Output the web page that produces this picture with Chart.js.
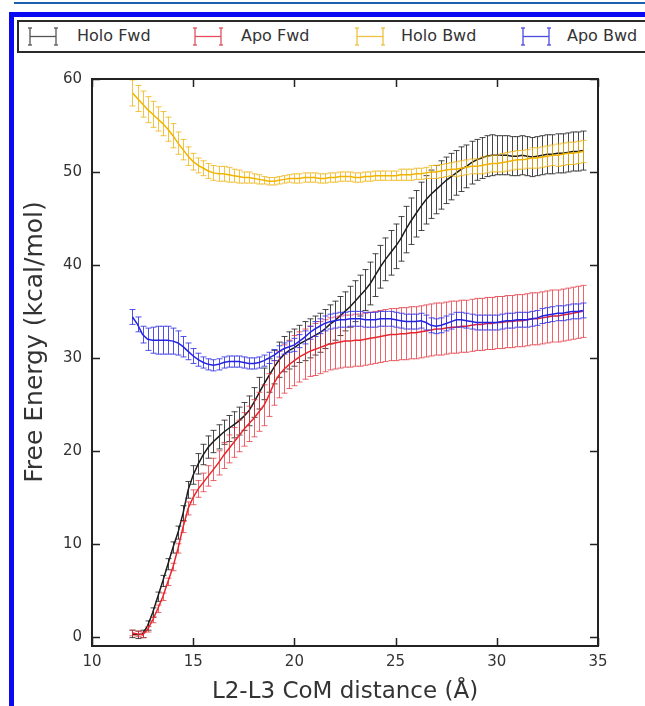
<!DOCTYPE html>
<html>
<head>
<meta charset="utf-8">
<title>Free energy profile</title>
<script src="https://cdn.jsdelivr.net/npm/chart.js@4.4.1/dist/chart.umd.min.js"></script>
<style>
    html, body { margin: 0; padding: 0; background: #fff; overflow: hidden; }
    body { width: 645px; height: 706px; position: relative; font-family: "DejaVu Sans", sans-serif; }
    #chart { position: absolute; left: 0; top: 0; }
    .topline { position: absolute; left: 14px; top: 2px; width: 640px; height: 2px; background: #1d5fae; }
    .frame { position: absolute; left: 9px; top: 12px; width: 700px; height: 720px; border: 5px solid #0a0af2; box-sizing: border-box; }
    #legend { position: absolute; left: 17px; top: 20px; width: 660px; height: 29px; border: 2px solid #2a2a2a; background: #fff; z-index: 2; }
    #legend .sym { position: absolute; top: 5px; }
    #legend .txt { position: absolute; top: 4px; font-size: 16px; color: #333; white-space: nowrap; }
</style>
</head>
<body>
<canvas id="chart" width="645" height="706"></canvas>
<div class="topline"></div>
<div class="frame"></div>
<div id="legend"></div>

<script>
// ===================================
// Data
// ===================================

const seriesLabels = ['Holo Fwd', 'Apo Fwd', 'Holo Bwd', 'Apo Bwd'];

// L2-L3 CoM distance (Å)
const distance = [
    12.00, 12.25, 12.50, 12.75, 13.00, 13.25, 13.50, 13.75, 14.00, 14.25,
    14.50, 14.75, 15.00, 15.25, 15.50, 15.75, 16.00, 16.25, 16.50, 16.75,
    17.00, 17.25, 17.50, 17.75, 18.00, 18.25, 18.50, 18.75, 19.00, 19.25,
    19.50, 19.75, 20.00, 20.25, 20.50, 20.75, 21.00, 21.25, 21.50, 21.75,
    22.00, 22.25, 22.50, 22.75, 23.00, 23.25, 23.50, 23.75, 24.00, 24.25,
    24.50, 24.75, 25.00, 25.25, 25.50, 25.75, 26.00, 26.25, 26.50, 26.75,
    27.00, 27.25, 27.50, 27.75, 28.00, 28.25, 28.50, 28.75, 29.00, 29.25,
    29.50, 29.75, 30.00, 30.25, 30.50, 30.75, 31.00, 31.25, 31.50, 31.75,
    32.00, 32.25, 32.50, 32.75, 33.00, 33.25, 33.50, 33.75, 34.00, 34.25
];

// Free energy (kcal/mol) and error bars
const holoFwd = [
    0.3, 0.2, 0.3, 1.2, 2.6, 4.3, 6.0, 7.8, 9.6, 11.2,
    13.3, 15.8, 17.4, 18.6, 19.6, 20.4, 21.0, 21.5, 22.0, 22.4,
    22.8, 23.2, 23.7, 24.3, 25.2, 26.2, 27.2, 28.1, 29.0, 29.8,
    30.4, 30.8, 31.1, 31.5, 31.8, 32.1, 32.4, 32.7, 33.1, 33.6,
    34.0, 34.5, 35.0, 35.5, 36.1, 36.7, 37.3, 38.0, 38.9, 39.8,
    40.6, 41.3, 42.0, 42.8, 43.8, 44.7, 45.5, 46.3, 47.0, 47.6,
    48.1, 48.6, 49.1, 49.5, 49.9, 50.3, 50.6, 51.0, 51.3, 51.5,
    51.7, 51.8, 51.8, 51.8, 51.8, 51.7, 51.7, 51.8, 51.7, 51.6,
    51.7, 51.8, 51.9, 51.9, 52.0, 52.0, 52.1, 52.2, 52.2, 52.3
];
const holoFwdErr = [
    0.4, 0.4, 0.4, 0.5, 0.5, 0.5, 0.6, 0.6, 0.6, 0.7,
    0.8, 0.9, 1.0, 1.1, 1.1, 1.2, 1.2, 1.3, 1.3, 1.4,
    1.4, 1.5, 1.5, 1.6, 1.6, 1.7, 1.7, 1.8, 1.8, 1.9,
    1.9, 2.0, 2.0, 2.0, 2.1, 2.1, 2.1, 2.1, 2.1, 2.1,
    2.1, 2.1, 2.1, 2.2, 2.2, 2.2, 2.2, 2.3, 2.3, 2.3,
    2.3, 2.4, 2.4, 2.4, 2.5, 2.5, 2.5, 2.6, 2.6, 2.6,
    2.6, 2.6, 2.5, 2.5, 2.4, 2.4, 2.3, 2.3, 2.2, 2.2,
    2.2, 2.2, 2.1, 2.1, 2.1, 2.1, 2.1, 2.1, 2.1, 2.1,
    2.1, 2.1, 2.1, 2.1, 2.1, 2.1, 2.1, 2.1, 2.1, 2.1
];

const apoFwd = [
    0.4, 0.3, 0.2, 0.8, 1.8, 3.0, 4.3, 5.9, 7.5, 9.5,
    11.8, 13.8, 15.0, 15.9, 16.6, 17.3, 18.0, 18.7, 19.5, 20.2,
    20.9, 21.6, 22.3, 22.9, 23.5, 24.2, 24.9, 26.0, 27.3, 28.2,
    28.8, 29.3, 29.7, 30.1, 30.4, 30.7, 30.9, 31.1, 31.3, 31.5,
    31.6, 31.7, 31.8, 31.8, 31.9, 31.9, 32.0, 32.1, 32.2, 32.3,
    32.4, 32.5, 32.5, 32.6, 32.6, 32.7, 32.7, 32.8, 32.9, 33.0,
    33.1, 33.1, 33.2, 33.3, 33.3, 33.4, 33.4, 33.5, 33.6, 33.6,
    33.7, 33.7, 33.8, 33.8, 33.9, 33.9, 34.0, 34.0, 34.1, 34.2,
    34.2, 34.3, 34.4, 34.5, 34.5, 34.6, 34.7, 34.8, 34.9, 35.0
];
const apoFwdErr = [
    0.3, 0.3, 0.3, 0.3, 0.3, 0.4, 0.4, 0.4, 0.4, 0.5,
    0.6, 0.7, 0.8, 0.9, 1.0, 1.1, 1.2, 1.3, 1.4, 1.5,
    1.6, 1.7, 1.8, 1.9, 2.0, 2.1, 2.2, 2.3, 2.4, 2.5,
    2.6, 2.6, 2.7, 2.7, 2.7, 2.7, 2.8, 2.8, 2.8, 2.8,
    2.8, 2.8, 2.8, 2.8, 2.8, 2.8, 2.8, 2.8, 2.8, 2.8,
    2.8, 2.8, 2.8, 2.8, 2.8, 2.8, 2.8, 2.8, 2.8, 2.8,
    2.8, 2.8, 2.8, 2.8, 2.8, 2.8, 2.8, 2.8, 2.8, 2.8,
    2.8, 2.8, 2.8, 2.8, 2.8, 2.8, 2.8, 2.8, 2.8, 2.8,
    2.8, 2.8, 2.8, 2.8, 2.8, 2.8, 2.8, 2.8, 2.8, 2.8
];

const holoBwd = [
    58.5, 57.9, 57.3, 56.7, 56.2, 55.7, 55.2, 54.6, 53.9, 53.1,
    52.4, 51.7, 51.1, 50.7, 50.4, 50.1, 49.9, 49.8, 49.8, 49.7,
    49.6, 49.5, 49.4, 49.4, 49.3, 49.2, 49.1, 49.0, 49.0, 49.1,
    49.2, 49.3, 49.3, 49.3, 49.4, 49.4, 49.4, 49.3, 49.3, 49.4,
    49.4, 49.5, 49.5, 49.5, 49.4, 49.4, 49.5, 49.5, 49.6, 49.6,
    49.6, 49.6, 49.6, 49.7, 49.7, 49.7, 49.8, 49.8, 49.9, 50.0,
    50.0, 50.1, 50.2, 50.3, 50.3, 50.4, 50.5, 50.6, 50.6, 50.7,
    50.8, 50.9, 50.9, 51.0, 51.1, 51.2, 51.3, 51.3, 51.4, 51.5,
    51.5, 51.6, 51.7, 51.8, 51.8, 51.9, 52.0, 52.0, 52.1, 52.2
];
const holoBwdErr = [
    1.4, 1.4, 1.4, 1.4, 1.4, 1.3, 1.3, 1.3, 1.3, 1.2,
    1.1, 1.0, 0.9, 0.8, 0.8, 0.8, 0.8, 0.8, 0.8, 0.8,
    0.7, 0.7, 0.6, 0.6, 0.5, 0.5, 0.4, 0.4, 0.4, 0.4,
    0.4, 0.4, 0.5, 0.5, 0.5, 0.5, 0.5, 0.5, 0.5, 0.5,
    0.5, 0.5, 0.5, 0.5, 0.5, 0.5, 0.5, 0.5, 0.5, 0.5,
    0.5, 0.5, 0.5, 0.6, 0.6, 0.6, 0.6, 0.6, 0.6, 0.7,
    0.7, 0.7, 0.7, 0.7, 0.8, 0.8, 0.8, 0.8, 0.8, 0.9,
    0.9, 0.9, 0.9, 1.0, 1.0, 1.0, 1.0, 1.0, 1.0, 1.1,
    1.1, 1.1, 1.1, 1.1, 1.2, 1.2, 1.2, 1.2, 1.2, 1.2
];

const apoBwd = [
    34.4, 33.6, 32.5, 32.0, 31.9, 31.9, 31.9, 31.9, 31.8, 31.6,
    31.2, 30.7, 30.2, 29.8, 29.5, 29.3, 29.2, 29.3, 29.5, 29.6,
    29.6, 29.6, 29.5, 29.4, 29.4, 29.5, 29.7, 30.0, 30.3, 30.7,
    31.0, 31.2, 31.4, 31.8, 32.2, 32.7, 33.1, 33.4, 33.7, 33.9,
    34.0, 34.1, 34.1, 34.2, 34.2, 34.2, 34.1, 34.1, 34.1, 34.2,
    34.2, 34.2, 34.1, 34.0, 33.9, 33.9, 33.9, 34.0, 33.8, 33.5,
    33.4, 33.5, 33.7, 33.9, 34.1, 34.1, 34.0, 33.9, 33.8, 33.8,
    33.8, 33.8, 33.8, 33.9, 34.0, 34.0, 34.1, 34.1, 34.1, 34.2,
    34.3, 34.5, 34.6, 34.7, 34.8, 34.8, 34.9, 35.0, 35.0, 35.1
];
const apoBwdErr = [
    0.8, 0.8, 0.9, 1.2, 1.4, 1.5, 1.5, 1.5, 1.4, 1.3,
    1.1, 0.9, 0.8, 0.7, 0.6, 0.6, 0.6, 0.6, 0.6, 0.6,
    0.6, 0.6, 0.6, 0.6, 0.6, 0.6, 0.6, 0.6, 0.6, 0.6,
    0.6, 0.6, 0.7, 0.7, 0.7, 0.7, 0.8, 0.8, 0.8, 0.8,
    0.8, 0.8, 0.8, 0.8, 0.8, 0.8, 0.8, 0.8, 0.8, 0.8,
    0.8, 0.8, 0.8, 0.8, 0.8, 0.8, 0.8, 0.8, 0.8, 0.8,
    0.8, 0.8, 0.8, 0.8, 0.8, 0.8, 0.8, 0.8, 0.8, 0.8,
    0.8, 0.8, 0.8, 0.8, 0.8, 0.8, 0.8, 0.8, 0.8, 0.8,
    0.8, 0.8, 0.8, 0.8, 0.8, 0.8, 0.8, 0.8, 0.8, 0.8
];

const xTickValues = [10, 15, 20, 25, 30, 35];
const yTickValues = [0, 10, 20, 30, 40, 50, 60];

const xTitle = 'L2-L3 CoM distance (Å)';
const yTitle = 'Free Energy (kcal/mol)';

// ===================================
// Styling
// ===================================

const lineColors = ['#1c1c1c', '#e8262c', '#f2b400', '#2424e0'];
const errColors = ['rgba(40,40,40,0.85)', 'rgba(228,50,60,0.75)', 'rgba(240,180,20,0.8)', 'rgba(50,50,230,0.85)'];
const legendColors = ['#555555', '#e0505e', '#f0c040', '#4a4ae0'];
const AXIS_COLOR = '#222';
const TEXT_COLOR = '#333';
const FONT = '"DejaVu Sans", sans-serif';

// ===================================
// Plugins
// ===================================

// vertical error bars with caps, drawn just before each line
const errorBarPlugin = {
    id: 'errorBars',
    beforeDatasetDraw(chart, args) {
        const ds = chart.data.datasets[args.index];
        if (!ds.errors) return;
        const { ctx, chartArea, scales } = chart;
        const xs = scales.x, ys = scales.y;
        ctx.save();
        ctx.beginPath();
        ctx.rect(chartArea.left, chartArea.top, chartArea.right - chartArea.left, chartArea.bottom - chartArea.top);
        ctx.clip();
        ctx.strokeStyle = ds.errorColor;
        ctx.lineWidth = 1;
        ctx.beginPath();
        ds.data.forEach((pt, i) => {
            const e = ds.errors[i];
            const px = Math.round(xs.getPixelForValue(pt.x)) + 0.5;
            const top = ys.getPixelForValue(pt.y + e);
            const bot = ys.getPixelForValue(pt.y - e);
            ctx.moveTo(px, top);
            ctx.lineTo(px, bot);
            ctx.moveTo(px - 3, top);
            ctx.lineTo(px + 3, top);
            ctx.moveTo(px - 3, bot);
            ctx.lineTo(px + 3, bot);
        });
        ctx.stroke();
        ctx.restore();
    }
};

// matplotlib-like box with inward ticks on all four sides, plus y title
const framePlugin = {
    id: 'frame',
    afterDatasetsDraw(chart) {
        const { ctx, chartArea: a, scales } = chart;
        const tickLen = 8;
        ctx.save();
        ctx.strokeStyle = AXIS_COLOR;
        ctx.lineWidth = 1.5;
        ctx.beginPath();
        xTickValues.forEach(v => {
            const px = Math.round(scales.x.getPixelForValue(v)) + 0.5;
            ctx.moveTo(px, a.bottom);
            ctx.lineTo(px, a.bottom - tickLen);
            ctx.moveTo(px, a.top);
            ctx.lineTo(px, a.top + tickLen);
        });
        yTickValues.forEach(v => {
            const py = Math.round(scales.y.getPixelForValue(v)) + 0.5;
            ctx.moveTo(a.left, py);
            ctx.lineTo(a.left + tickLen, py);
            ctx.moveTo(a.right, py);
            ctx.lineTo(a.right - tickLen, py);
        });
        ctx.stroke();
        ctx.lineWidth = 2;
        ctx.strokeRect(a.left, a.top, a.right - a.left, a.bottom - a.top);

        ctx.translate(35, 342);
        ctx.rotate(-Math.PI / 2);
        ctx.font = '25px ' + FONT;
        ctx.fillStyle = TEXT_COLOR;
        ctx.textAlign = 'center';
        ctx.textBaseline = 'middle';
        ctx.fillText(yTitle, 0, 0);
        ctx.restore();
    }
};

// ===================================
// Legend (HTML, matplotlib style box)
// ===================================

function buildLegend() {
    const legend = document.getElementById('legend');
    const symLeft = [9, 174, 336, 502];
    const txtLeft = [58, 222, 382, 548];
    seriesLabels.forEach((label, i) => {
        const c = legendColors[i];
        const sym = document.createElement('span');
        sym.className = 'sym';
        sym.style.left = symLeft[i] + 'px';
        sym.innerHTML =
            '<svg width="30" height="19" viewBox="0 0 30 19">' +
            `<g stroke="${c}" stroke-width="1.3" fill="none">` +
            '<line x1="2" y1="9.5" x2="28" y2="9.5"/>' +
            '<line x1="2" y1="1" x2="2" y2="18"/>' +
            '<line x1="28" y1="1" x2="28" y2="18"/>' +
            '<line x1="0" y1="1" x2="4" y2="1"/><line x1="0" y1="18" x2="4" y2="18"/>' +
            '<line x1="26" y1="1" x2="30" y2="1"/><line x1="26" y1="18" x2="30" y2="18"/>' +
            '</g></svg>';
        legend.appendChild(sym);
        const txt = document.createElement('span');
        txt.className = 'txt';
        txt.style.left = txtLeft[i] + 'px';
        txt.textContent = label;
        legend.appendChild(txt);
    });
}

// ===================================
// Chart
// ===================================

function makeDataset(i, values, errors, order) {
    return {
        label: seriesLabels[i],
        data: distance.map((x, k) => ({ x: x, y: values[k] })),
        errors: errors,
        errorColor: errColors[i],
        borderColor: lineColors[i],
        backgroundColor: lineColors[i],
        borderWidth: 1.5,
        pointRadius: 0,
        tension: 0,
        fill: false,
        order: order
    };
}

document.addEventListener('DOMContentLoaded', function() {
    buildLegend();

    new Chart(document.getElementById('chart'), {
        type: 'line',
        data: {
            datasets: [
                makeDataset(0, holoFwd, holoFwdErr, 3),
                makeDataset(1, apoFwd, apoFwdErr, 2),
                makeDataset(2, holoBwd, holoBwdErr, 1),
                makeDataset(3, apoBwd, apoBwdErr, 0)
            ]
        },
        options: {
            responsive: false,
            animation: false,
            events: [],
            layout: { padding: { top: 79, right: 47, left: 0, bottom: 0 } },
            plugins: {
                legend: { display: false },
                tooltip: { enabled: false }
            },
            scales: {
                x: {
                    type: 'linear',
                    min: 10,
                    max: 35,
                    afterBuildTicks: s => { s.ticks = xTickValues.map(v => ({ value: v })); },
                    afterFit: s => { s.height = 60; },
                    grid: { display: false, drawTicks: false },
                    border: { display: false },
                    ticks: { color: TEXT_COLOR, font: { family: FONT, size: 15 }, padding: 7, maxRotation: 0 },
                    title: {
                        display: true,
                        text: xTitle,
                        color: TEXT_COLOR,
                        font: { family: FONT, size: 23 },
                        padding: { top: 0, bottom: 0 }
                    }
                },
                y: {
                    type: 'linear',
                    min: -1,
                    max: 60,
                    afterBuildTicks: s => { s.ticks = yTickValues.map(v => ({ value: v })); },
                    afterFit: s => { s.width = 92; },
                    grid: { display: false, drawTicks: false },
                    border: { display: false },
                    ticks: { color: TEXT_COLOR, font: { family: FONT, size: 15 }, padding: 10 }
                }
            }
        },
        plugins: [errorBarPlugin, framePlugin]
    });
});
</script>
</body>
</html>
